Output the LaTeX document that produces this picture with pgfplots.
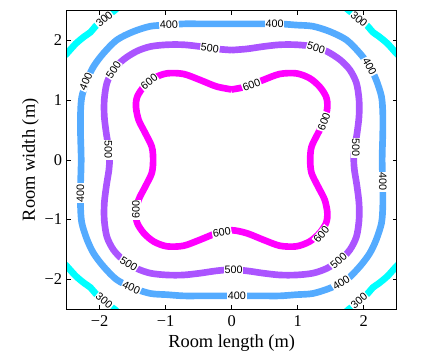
\documentclass[border=0pt]{standalone}
\usepackage{fontspec}
\setmainfont{Liberation Serif}
\newfontfamily\labelfont{Liberation Sans}
\usepackage{pgfplots}
\pgfplotsset{compat=1.18}
\definecolor{c300}{rgb}{0,1,1}
\definecolor{c400}{rgb}{0.33,0.67,1}
\definecolor{c500}{rgb}{0.67,0.33,1}
\definecolor{c600}{rgb}{1,0,1}
\tikzset{clab/.style={fill=white, inner sep=0.6pt, font=\labelfont\fontsize{8.1}{9}\selectfont}}
\begin{document}
\begin{tikzpicture}
\path[use as bounding box] (-50pt,-38.25pt) rectangle (282.25pt,231.75pt);
\begin{axis}[
  at={(0,0)}, anchor=south west,
  scale only axis, width=247.5pt, height=223.7pt,
  xmin=-2.5, xmax=2.5, ymin=-2.5, ymax=2.5,
  xtick={-2,-1,0,1,2}, xticklabels={−2,−1,0,1,2},
  ytick={-2,-1,0,1,2}, yticklabels={−2,−1,0,1,2},
  tick align=inside, major tick length=3pt,
  tick style={black, line width=0.5pt},
  axis line style={line width=0.5pt},
  ticklabel style={font=\fontsize{12.3}{14}\selectfont},
  xticklabel style={yshift=-1.5pt},
  label style={font=\fontsize{13.8}{16}\selectfont},
  xlabel={Room length (m)}, ylabel={Room width (m)},
  xlabel style={at={(axis description cs:0.5,0)}, anchor=base, yshift=-28.7pt},
  ylabel style={at={([xshift=-23.8pt]axis description cs:0,0.5)}, anchor=base},
  axis on top,
  every axis plot/.append style={line width=5pt, line join=round, smooth},
]
% 300 lux
\addplot[c300] coordinates {(-2.56,1.72) (-2.5,1.78) (-2.36,1.95) (-2.23,2.07) (-2.14,2.14) (-2.07,2.23) (-1.95,2.36) (-1.78,2.5) (-1.72,2.56)};
\addplot[c300] coordinates {(2.56,1.72) (2.5,1.78) (2.36,1.95) (2.23,2.07) (2.14,2.14) (2.07,2.23) (1.95,2.36) (1.78,2.5) (1.72,2.56)};
\addplot[c300] coordinates {(-2.56,-1.72) (-2.5,-1.78) (-2.36,-1.95) (-2.23,-2.07) (-2.14,-2.14) (-2.07,-2.23) (-1.95,-2.36) (-1.78,-2.5) (-1.72,-2.56)};
\addplot[c300] coordinates {(2.56,-1.72) (2.5,-1.78) (2.36,-1.95) (2.23,-2.07) (2.14,-2.14) (2.07,-2.23) (1.95,-2.36) (1.78,-2.5) (1.72,-2.56)};
% 400 lux
\addplot[c400] coordinates {
(0,2.28) (-0.24,2.28) (-0.48,2.28) (-0.73,2.28) (-0.98,2.26) (-1.23,2.24) (-1.49,2.15) (-1.74,2.01) (-1.94,1.79) (-2.09,1.57) (-2.19,1.34) (-2.27,1.06) (-2.29,0.78) (-2.29,0.45) (-2.28,0)
(-2.29,-0.45) (-2.29,-0.78) (-2.27,-1.06) (-2.19,-1.34) (-2.09,-1.57) (-1.94,-1.79) (-1.74,-2.01) (-1.49,-2.15) (-1.23,-2.24) (-0.98,-2.26) (-0.73,-2.28) (-0.48,-2.28) (-0.24,-2.28) (0,-2.28)
(0.24,-2.28) (0.48,-2.28) (0.73,-2.28) (0.98,-2.26) (1.23,-2.24) (1.49,-2.15) (1.74,-2.01) (1.94,-1.79) (2.09,-1.57) (2.19,-1.34) (2.27,-1.06) (2.29,-0.78) (2.29,-0.45) (2.28,0)
(2.29,0.45) (2.29,0.78) (2.27,1.06) (2.19,1.34) (2.09,1.57) (1.94,1.79) (1.74,2.01) (1.49,2.15) (1.23,2.24) (0.98,2.26) (0.73,2.28) (0.48,2.28) (0.24,2.28) (0,2.28)};
% 500 lux
\addplot[c500] coordinates {
(0,1.84) (-0.23,1.86) (-0.48,1.90) (-0.73,1.93) (-0.98,1.93) (-1.23,1.90) (-1.44,1.82) (-1.64,1.68) (-1.79,1.51) (-1.89,1.29) (-1.93,1.01) (-1.93,0.73) (-1.90,0.45) (-1.86,0.17) (-1.85,0)
(-1.86,-0.17) (-1.90,-0.45) (-1.93,-0.73) (-1.93,-1.01) (-1.89,-1.29) (-1.79,-1.51) (-1.64,-1.68) (-1.44,-1.82) (-1.23,-1.90) (-0.98,-1.93) (-0.73,-1.93) (-0.48,-1.90) (-0.23,-1.86) (0,-1.84)
(0.23,-1.86) (0.48,-1.90) (0.73,-1.93) (0.98,-1.93) (1.23,-1.90) (1.44,-1.82) (1.64,-1.68) (1.79,-1.51) (1.89,-1.29) (1.93,-1.01) (1.93,-0.73) (1.90,-0.45) (1.86,-0.17) (1.85,0)
(1.86,0.17) (1.90,0.45) (1.93,0.73) (1.93,1.01) (1.89,1.29) (1.79,1.51) (1.64,1.68) (1.44,1.82) (1.23,1.90) (0.98,1.93) (0.73,1.93) (0.48,1.90) (0.23,1.86) (0,1.84)};
% 600 lux
\addplot[c600] coordinates {
(0,1.18) (-0.23,1.23) (-0.48,1.34) (-0.73,1.44) (-0.98,1.45) (-1.18,1.37) (-1.33,1.23) (-1.43,1.06) (-1.45,0.89) (-1.41,0.67) (-1.31,0.45) (-1.21,0.22) (-1.19,0)
(-1.21,-0.22) (-1.31,-0.45) (-1.41,-0.67) (-1.45,-0.89) (-1.43,-1.06) (-1.33,-1.23) (-1.18,-1.37) (-0.98,-1.45) (-0.73,-1.44) (-0.48,-1.34) (-0.23,-1.23) (0,-1.18)
(0.23,-1.23) (0.48,-1.34) (0.73,-1.44) (0.98,-1.45) (1.18,-1.37) (1.33,-1.23) (1.43,-1.06) (1.45,-0.89) (1.41,-0.67) (1.31,-0.45) (1.21,-0.22) (1.19,0)
(1.21,0.22) (1.31,0.45) (1.41,0.67) (1.45,0.89) (1.43,1.06) (1.33,1.23) (1.18,1.37) (0.98,1.45) (0.73,1.44) (0.48,1.34) (0.23,1.23) (0,1.18)};
% contour labels
\node[clab, rotate=40] at (-1.93,2.36) {300};
\node[clab, rotate=-40] at (1.93,2.36) {300};
\node[clab, rotate=-40] at (-1.93,-2.36) {300};
\node[clab, rotate=40] at (1.93,-2.36) {300};
\node[clab, rotate=3] at (-0.95,2.27) {400};
\node[clab, rotate=0] at (0.65,2.28) {400};
\node[clab, rotate=66] at (-2.21,1.31) {400};
\node[clab, rotate=90] at (-2.29,-0.56) {400};
\node[clab, rotate=-62] at (2.09,1.57) {400};
\node[clab, rotate=-90] at (2.29,-0.37) {400};
\node[clab, rotate=-24] at (-1.52,-2.14) {400};
\node[clab, rotate=0] at (0.08,-2.28) {400};
\node[clab, rotate=32] at (1.66,-2.06) {400};
\node[clab, rotate=57] at (-1.79,1.51) {500};
\node[clab, rotate=-7] at (-0.33,1.87) {500};
\node[clab, rotate=-17] at (1.28,1.88) {500};
\node[clab, rotate=-90] at (1.88,0.2) {500};
\node[clab, rotate=-90] at (-1.87,0.17) {500};
\node[clab, rotate=-32] at (-1.56,-1.74) {500};
\node[clab, rotate=0] at (0.03,-1.84) {500};
\node[clab, rotate=42] at (1.62,-1.69) {500};
\node[clab, rotate=38] at (-1.25,1.31) {600};
\node[clab, rotate=20] at (0.30,1.26) {600};
\node[clab, rotate=70] at (1.40,0.64) {600};
\node[clab, rotate=90] at (-1.45,-0.84) {600};
\node[clab, rotate=10] at (-0.15,-1.21) {600};
\node[clab, rotate=50] at (1.36,-1.25) {600};
\end{axis}
\end{tikzpicture}
\end{document}
